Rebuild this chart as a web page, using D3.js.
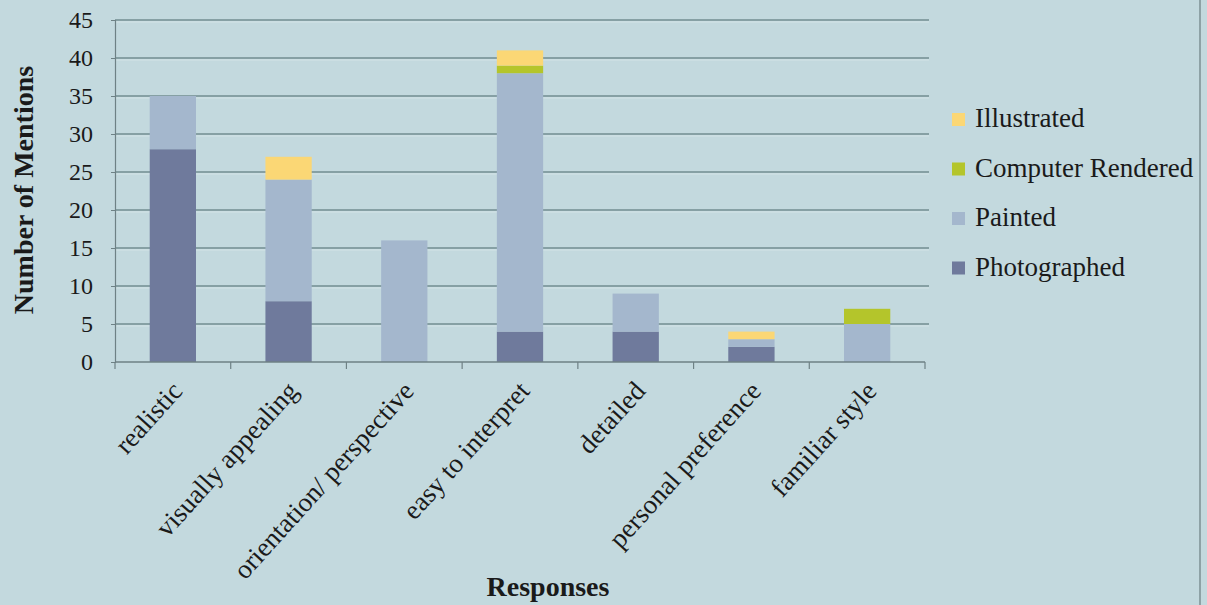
<!DOCTYPE html>
<html>
<head>
<meta charset="utf-8">
<script src="https://cdn.jsdelivr.net/npm/d3@7/dist/d3.min.js"></script>
<style>
  html, body { margin: 0; padding: 0; background: #c3d9de; }
  svg { display: block; }
  text { font-family: "Liberation Serif", "Times New Roman", serif; fill: #1a1a1a; }
</style>
</head>
<body>
<svg id="chart" width="1207" height="605"></svg>
<script>
// Response categories along the x axis
const categories = ["realistic", "visually appealing", "orientation/ perspective",
  "easy to interpret", "detailed", "personal preference", "familiar style"];

// Mentions per image style, one value per category (stacked bottom to top)
const photographed     = [28, 8, 0, 4, 4, 2, 0];
const painted          = [7, 16, 16, 34, 5, 1, 5];
const computerRendered = [0, 0, 0, 1, 0, 0, 2];
const illustrated      = [0, 3, 0, 2, 0, 1, 0];

const seriesNames = ["Photographed", "Painted", "Computer Rendered", "Illustrated"];
const yTicks = [0, 5, 10, 15, 20, 25, 30, 35, 40, 45];

const colors = {
  "Photographed": "#6f7a9c",
  "Painted": "#a4b7cd",
  "Computer Rendered": "#b4c52b",
  "Illustrated": "#fbd775"
};

const svg = d3.select("#chart");
const margin = { left: 115, right: 282, top: 20, bottom: 243 };
const W = 1207, H = 605;
const x0 = margin.left, x1 = W - margin.right;
const y0 = H - margin.bottom, y1 = margin.top;

const table = categories.map((c, i) => ({
  category: c,
  "Photographed": photographed[i],
  "Painted": painted[i],
  "Computer Rendered": computerRendered[i],
  "Illustrated": illustrated[i]
}));

const stack = d3.stack().keys(seriesNames)(table);

const x = d3.scaleBand().domain(categories).range([x0, x1]).paddingInner(0.6).paddingOuter(0.3);
const xOuter = d3.scaleBand().domain(categories).range([x0, x1]);
const y = d3.scaleLinear().domain([0, 45]).range([y0, y1]);

// horizontal gridlines with a faint highlight beneath each
const grid = svg.append("g");
grid.selectAll("line.hl").data(yTicks.filter(d => d > 0)).join("line")
  .attr("x1", x0).attr("x2", x1 + 4)
  .attr("y1", d => y(d) + 2).attr("y2", d => y(d) + 2)
  .attr("stroke", "#d3e3e6").attr("stroke-width", 1);
grid.selectAll("line.g").data(yTicks.filter(d => d > 0)).join("line")
  .attr("x1", x0).attr("x2", x1 + 4)
  .attr("y1", d => y(d)).attr("y2", d => y(d))
  .attr("stroke", "#728c91").attr("stroke-width", 1.5);

// stacked bars
svg.append("g").selectAll("g").data(stack).join("g")
  .attr("fill", d => colors[d.key])
  .selectAll("rect").data(d => d).join("rect")
  .attr("x", d => x(d.data.category))
  .attr("width", x.bandwidth())
  .attr("y", d => y(d[1]))
  .attr("height", d => y(d[0]) - y(d[1]));

// y axis
const yAxis = svg.append("g").attr("transform", `translate(${x0},0)`)
  .call(d3.axisLeft(y).tickValues(yTicks).tickSize(4).tickPadding(18));
yAxis.select(".domain").attr("stroke", "#6e8185").attr("stroke-width", 1.2);
yAxis.selectAll(".tick line").attr("stroke", "#6e8185");
yAxis.selectAll(".tick text").attr("font-size", 24).attr("fill", "#1a1a1a")
  .attr("font-family", "Liberation Serif, serif");

// x axis line with category boundary ticks
svg.append("line").attr("x1", x0).attr("x2", x1).attr("y1", y0).attr("y2", y0)
  .attr("stroke", "#6e8185").attr("stroke-width", 1.5);
const bounds = categories.map(c => xOuter(c)).concat([x1]);
svg.append("g").selectAll("line").data(bounds).join("line")
  .attr("x1", d => d).attr("x2", d => d).attr("y1", y0).attr("y2", y0 + 7)
  .attr("stroke", "#6e8185").attr("stroke-width", 1.2);

// rotated category labels, ending just right of each category centre
svg.append("g").selectAll("text").data(categories).join("text")
  .attr("transform", d => `translate(${xOuter(d) + xOuter.bandwidth() / 2 + 11},${y0 + 30}) rotate(-48)`)
  .attr("text-anchor", "end")
  .attr("font-size", 27)
  .text(d => d);

// axis titles
svg.append("text").attr("x", 548).attr("y", 596)
  .attr("text-anchor", "middle").attr("font-weight", "bold").attr("font-size", 28)
  .text("Responses");
svg.append("text").attr("transform", `translate(33,190) rotate(-90)`)
  .attr("text-anchor", "middle").attr("font-weight", "bold").attr("font-size", 28)
  .text("Number of Mentions");

// legend, top entry is the top of the stack
const legendItems = seriesNames.slice().reverse();
const lg = svg.append("g").selectAll("g").data(legendItems).join("g")
  .attr("transform", (d, i) => `translate(952,${119 + i * 49.5})`);
lg.append("rect").attr("x", 0).attr("y", -6).attr("width", 13).attr("height", 13)
  .attr("fill", d => colors[d]);
lg.append("text").attr("x", 23).attr("y", 8).attr("font-size", 27).text(d => d);

// right frame edge
svg.append("line").attr("x1", 1200).attr("x2", 1200).attr("y1", 0).attr("y2", H)
  .attr("stroke", "#8ea2a6").attr("stroke-width", 2);
</script>
</body>
</html>
